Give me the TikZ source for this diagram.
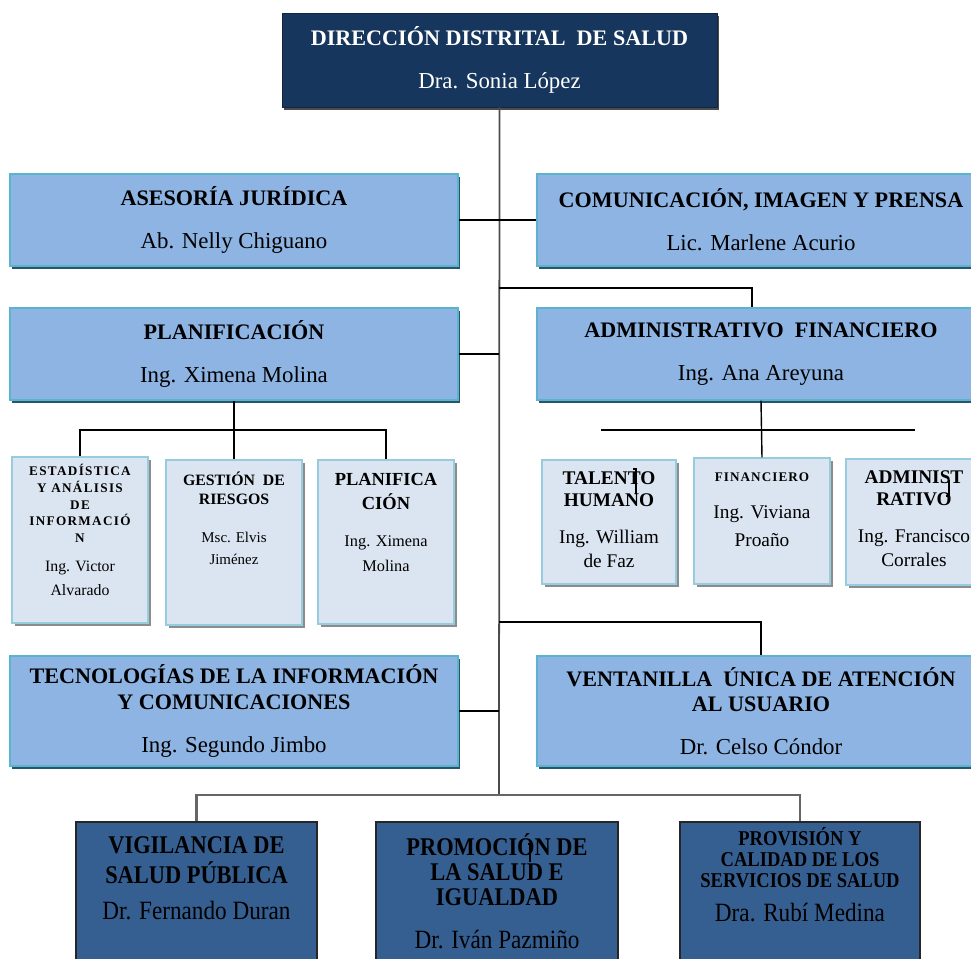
\documentclass[tikz,border=0pt]{standalone}
\usepackage{fontspec}
\setmainfont{Liberation Serif}
\usepackage{tikz}
\usetikzlibrary{shadows}

\definecolor{navy}{RGB}{23,54,93}
\definecolor{unitfill}{RGB}{141,180,226}
\definecolor{unitline}{RGB}{90,180,205}
\definecolor{unitshade}{RGB}{40,85,105}
\definecolor{subfill}{RGB}{219,229,241}
\definecolor{subline}{RGB}{150,205,222}
\definecolor{areafill}{RGB}{54,95,145}

\tikzset{
  headbox/.style={draw=navy!70!black, fill=navy, text=white, minimum width=8.7cm, minimum height=1.88cm,
    align=center, font=\fontsize{12.6}{14.5}\selectfont,
    drop shadow={shadow xshift=1.2pt, shadow yshift=-1.5pt, fill=black!70, opacity=1}},
  unitbox/.style={draw=unitline, line width=0.8pt, fill=unitfill, minimum width=8.96cm, minimum height=1.84cm,
    align=center, font=\fontsize{12.6}{14.5}\selectfont,
    drop shadow={shadow xshift=1.2pt, shadow yshift=-1.8pt, fill=unitshade, opacity=1}},
  tallunit/.style={unitbox, minimum height=2.2cm},
  subbox/.style={draw=subline, line width=0.8pt, fill=subfill, inner sep=0pt,
    drop shadow={shadow xshift=1.5pt, shadow yshift=-1.8pt, fill=black!45, opacity=1}},
  areabox/.style={draw=black!85, line width=0.8pt, fill=areafill, inner sep=0pt},
  link/.style={black, line width=0.8pt},
  trunk/.style={black!70, line width=1pt},
  bus/.style={black!60, line width=1.2pt},
}

% text block pinned to the top of a box: height, width, top pad, content
\newcommand{\boxtop}[4]{\parbox[c][#1][t]{#2}{\centering\vspace*{#3}#4}}
\newcommand{\narrow}{\addfontfeature{FakeStretch=0.88}}
\newcommand{\who}[1]{{\fontsize{15}{17}\selectfont #1\par}}

\begin{document}
\begin{tikzpicture}[x=0.02cm, y=-0.02cm]
\useasboundingbox (0,0) rectangle (971,958);

% ---- Dirección ----
\node[headbox] (dir) at (499.5,60) {\textbf{DIRECCIÓN DISTRITAL\ \ DE SALUD}\\[10pt] {\fontsize{13}{14.5}\selectfont Dra. Sonia López}};

% ---- Unidades de apoyo ----
\node[unitbox] (jur) at (234,220) {\textbf{ASESORÍA JURÍDICA}\\[10pt] {\fontsize{13}{14.5}\selectfont Ab. Nelly Chiguano}};
\node[unitbox] (com) at (761,220) {\textbf{COMUNICACIÓN, IMAGEN Y PRENSA}\\[10pt] {\fontsize{13}{14.5}\selectfont Lic. Marlene Acurio}};
\node[unitbox] (pla) at (234,354) {\textbf{PLANIFICACIÓN}\\[10pt] {\fontsize{13}{14.5}\selectfont Ing. Ximena Molina}};
\node[unitbox] (adm) at (761,354) {\textbf{ADMINISTRATIVO\ \ FINANCIERO}\\[10pt] {\fontsize{13}{14.5}\selectfont Ing. Ana Areyuna}};

% ---- Procesos de planificación ----
\node[subbox] (est) at (80,540) {\boxtop{3.32cm}{2.72cm}{4pt}{%
  {\fontsize{7.5}{9.6}\selectfont\bfseries\addfontfeature{LetterSpace=10}ESTADÍSTICA\\Y ANÁLISIS\\DE\\INFORMACIÓ\\N\par}
  \vspace{3pt}{\fontsize{9}{13.5}\selectfont Ing. Victor\\Alvarado\par}}};
\node[subbox] (rie) at (234,542.5) {\boxtop{3.3cm}{2.72cm}{6.5pt}{%
  {\fontsize{9}{11}\selectfont\bfseries GESTIÓN\ \ DE\\RIESGOS\par}
  \vspace{9pt}{\fontsize{8.5}{12.5}\selectfont Msc. Elvis\\Jiménez\par}}};
\node[subbox] (pls) at (386,542) {\boxtop{3.28cm}{2.72cm}{7.5pt}{%
  {\fontsize{10.5}{13.6}\selectfont\bfseries PLANIFICA\\CIÓN\par}
  \vspace{6.5pt}{\fontsize{9.3}{14.5}\selectfont Ing. Ximena\\Molina\par}}};

% ---- Procesos administrativos ----
\node[subbox] (tal) at (609,522) {\boxtop{2.48cm}{2.68cm}{6.5pt}{%
  {\fontsize{11}{12.5}\selectfont\bfseries TALENTO\\HUMANO\par}
  \vspace{7pt}{\fontsize{11}{14}\selectfont Ing. William\\de Faz\par}}};
\node[subbox] (fin) at (762,521) {\boxtop{2.52cm}{2.72cm}{8.5pt}{%
  {\fontsize{7.5}{9}\selectfont\bfseries\addfontfeature{LetterSpace=8}FINANCIERO\par}
  \vspace{5pt}{\fontsize{11}{16}\selectfont Ing. Viviana\\Proaño\par}}};
\node[subbox] (adt) at (914,522) {\boxtop{2.52cm}{2.72cm}{6.5pt}{%
  {\fontsize{11}{12.5}\selectfont\bfseries ADMINIST\\RATIVO\par}
  \vspace{7pt}{\fontsize{11}{14}\selectfont Ing. Francisco\\Corrales\par}}};

% ---- TIC y ventanilla ----
\node[tallunit] (tic) at (234,711) {\textbf{TECNOLOGÍAS DE LA INFORMACIÓN}\\\textbf{Y COMUNICACIONES}\\[10pt] {\fontsize{13}{14.5}\selectfont Ing. Segundo Jimbo}};
\node[tallunit] (ven) at (761,711) {\textbf{VENTANILLA\ \ ÚNICA DE ATENCIÓN}\\\textbf{AL USUARIO}\\[10pt] {\fontsize{13}{14.5}\selectfont Dr. Celso Cóndor}};

% ---- Procesos agregadores de valor ----
\node[areabox] (vig) at (196.5,907) {\boxtop{3.4cm}{4.82cm}{8.5pt}{\narrow
  {\fontsize{14.5}{17}\selectfont\bfseries VIGILANCIA DE\\SALUD PÚBLICA\par}
  \vspace{3.4pt}\who{Dr. Fernando Duran}}};
\node[areabox] (pro) at (497,907) {\boxtop{3.4cm}{4.84cm}{6.5pt}{\narrow
  {\fontsize{14.5}{14.2}\selectfont\bfseries PROMOCIÓN DE\\LA SALUD E\\IGUALDAD\par}
  \vspace{7.4pt}\who{Dr. Iván Pazmiño}}};
\node[areabox] (prv) at (800,907) {\boxtop{3.4cm}{4.8cm}{3pt}{\narrow
  {\fontsize{12}{11.9}\selectfont\bfseries PROVISIÓN Y\\CALIDAD DE LOS\\SERVICIOS DE SALUD\par}
  \vspace{2.3pt}\who{Dra. Rubí Medina}}};

% ---- Connectors ----
\coordinate (jointA) at (499,288);
\coordinate (jointV) at (499,622);
\coordinate (busP) at (234,430);
\coordinate (busAL) at (601,430);
\coordinate (busAR) at (915,430);
\coordinate (busB) at (499,795);

\draw[trunk] (dir.south) -- (busB);
\draw[link] (jur.east) -- (com.west);
\draw[link] (jointA) -| ([xshift=-0.18cm]adm.north);
\draw[link] (pla.east) -- (pla.east -| busB);
\draw[link] (pla.south) -- (rie.north);
\draw[link] (est.north) |- (busP) -| (pls.north);
\draw[link] (adm.south) -- (fin.north);
\draw[link] (busAL) -- (busAR);
\draw[link] (jointV) -| (ven.north);
\draw[link] (tic.east) -- (tic.east -| busB);
\draw[bus] (vig.north) |- (busB) -| (prv.north);

% stray line ends showing through the boxes
\draw[link, line width=0.6pt] (633,469) -- (636,469) -- (636,494);
\draw[link, line width=0.6pt] (949,480) -- (949,496) -- (946,496);
\draw[link, line width=0.6pt] (528,844) -- (530,844) -- (530,862);

\end{tikzpicture}
\end{document}
